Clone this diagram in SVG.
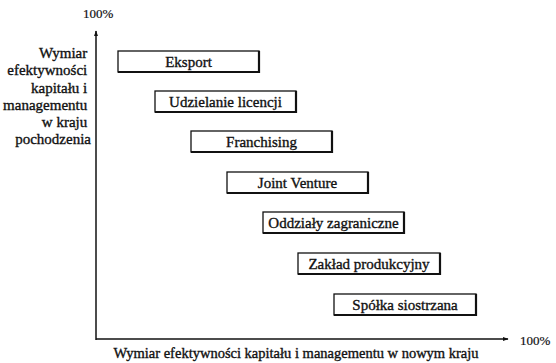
<svg xmlns="http://www.w3.org/2000/svg" width="556" height="363" viewBox="0 0 556 363">
  <style>
    .box { fill: #fff; stroke: #111; stroke-width: 1.3; }
    .shade { fill: none; stroke: #111; stroke-width: 2.2; }
    .lbl { font-family: "Liberation Serif", "Times New Roman", serif; font-size: 15px; fill: #111; stroke: #111; stroke-width: 0.35; text-anchor: middle; }
    .ax { font-family: "Liberation Serif", "Times New Roman", serif; font-size: 15px; fill: #111; stroke: #111; stroke-width: 0.35; }
    .pct { font-family: "Liberation Serif", "Times New Roman", serif; font-size: 13px; fill: #111; stroke: #111; stroke-width: 0.2; }
    .axis { stroke: #111; stroke-width: 1.5; fill: none; }
  </style>
  <defs>
    <marker id="arrow" viewBox="0 0 10 10" refX="9" refY="5" markerWidth="6" markerHeight="6" orient="auto" markerUnits="userSpaceOnUse">
      <path d="M0,1.5 L10,5 L0,8.5 Z" fill="#111"/>
    </marker>
  </defs>
  <rect width="556" height="363" fill="#fff"/>

  <!-- axes -->
  <g id="connectors">
    <path class="axis" d="M96,340 L96,31" marker-end="url(#arrow)"/>
    <path class="axis" d="M96,339 L508,339" marker-end="url(#arrow)"/>
  </g>

  <!-- axis labels -->
  <g id="y-axis-label">
    <text class="pct" x="83" y="18">100%</text>
    <text class="ax" text-anchor="end">
      <tspan x="91" y="58">Wymiar</tspan>
      <tspan x="91" y="75">efektywności</tspan>
      <tspan x="91" y="93">kapitału i</tspan>
      <tspan x="91" y="110">managementu</tspan>
      <tspan x="91" y="127">w kraju</tspan>
      <tspan x="91" y="144">pochodzenia</tspan>
    </text>
  </g>
  <g id="x-axis-label">
    <text class="pct" x="520" y="345">100%</text>
    <text class="ax" x="296" y="358" text-anchor="middle" style="font-size:14.5px">Wymiar efektywności kapitału i managementu w nowym kraju</text>
  </g>

  <!-- entry modes -->
  <g id="eksport">
    <rect class="box" x="118" y="51" width="141" height="21"/>
    <path class="shade" d="M259,51 V72 H118"/>
    <text class="lbl" x="188.5" y="66.5">Eksport</text>
  </g>
  <g id="udzielanie-licencji">
    <rect class="box" x="155" y="91" width="141" height="21"/>
    <path class="shade" d="M296,91 V112 H155"/>
    <text class="lbl" x="225.5" y="106.5">Udzielanie licencji</text>
  </g>
  <g id="franchising">
    <rect class="box" x="191" y="131" width="141" height="21"/>
    <path class="shade" d="M332,131 V152 H191"/>
    <text class="lbl" x="261.5" y="146.5">Franchising</text>
  </g>
  <g id="joint-venture">
    <rect class="box" x="227" y="172" width="141" height="21"/>
    <path class="shade" d="M368,172 V193 H227"/>
    <text class="lbl" x="297.5" y="187.5">Joint Venture</text>
  </g>
  <g id="oddzialy-zagraniczne">
    <rect class="box" x="263" y="212" width="141" height="21"/>
    <path class="shade" d="M404,212 V233 H263"/>
    <text class="lbl" x="333.5" y="227.5">Oddziały zagraniczne</text>
  </g>
  <g id="zaklad-produkcyjny">
    <rect class="box" x="298" y="253" width="142" height="21"/>
    <path class="shade" d="M440,253 V274 H298"/>
    <text class="lbl" x="369" y="268.5">Zakład produkcyjny</text>
  </g>
  <g id="spolka-siostrzana">
    <rect class="box" x="334" y="294" width="142" height="21"/>
    <path class="shade" d="M476,294 V315 H334"/>
    <text class="lbl" x="405" y="309.5">Spółka siostrzana</text>
  </g>
</svg>
